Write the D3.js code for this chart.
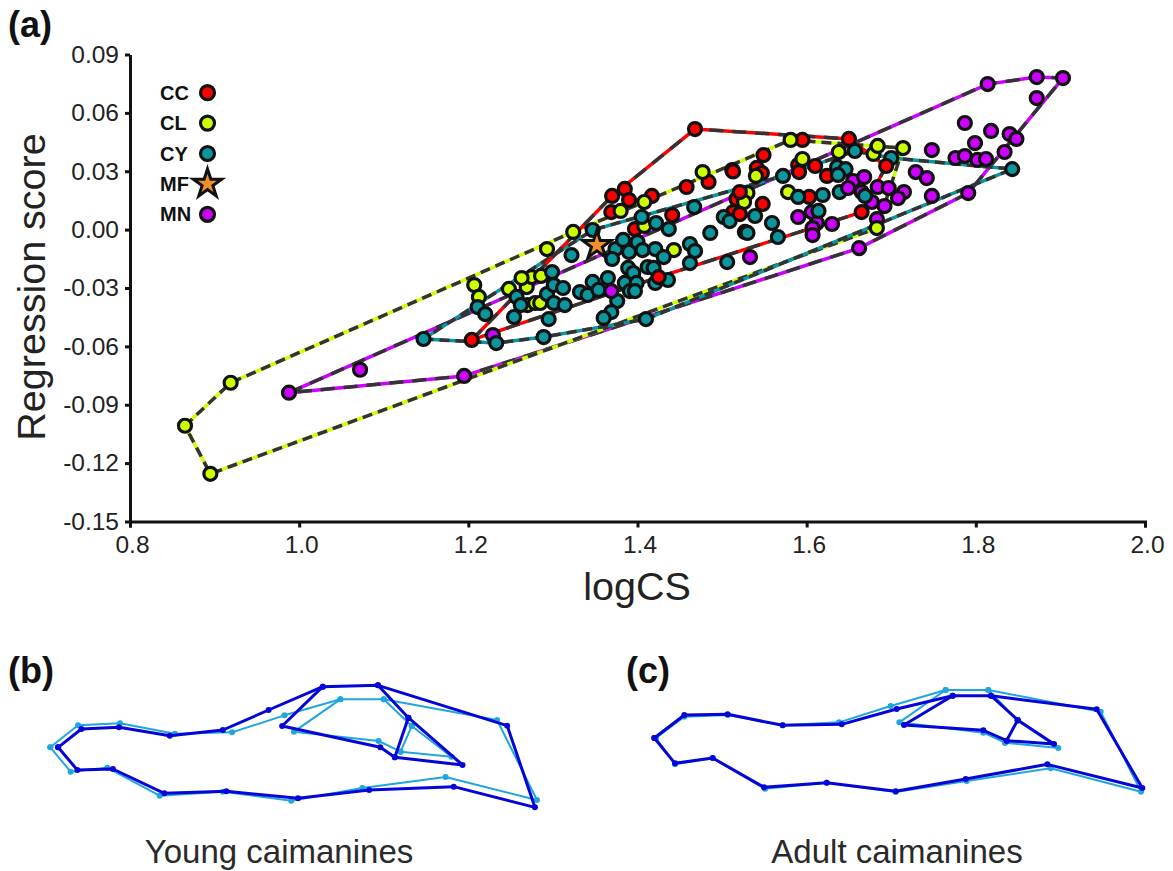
<!DOCTYPE html>
<html>
<head>
<meta charset="utf-8">
<script src="https://cdn.jsdelivr.net/npm/d3@7"></script>
<style>
  body { margin: 0; background: #fff; }
  text { font-family: "Liberation Sans", Arial, sans-serif; }
</style>
</head>
<body>
<div id="chart"></div>
<script>
// values
const xTicks = [0.8, 1.0, 1.2, 1.4, 1.6, 1.8, 2.0];
const yTicks = [-0.15, -0.12, -0.09, -0.06, -0.03, 0, 0.03, 0.06, 0.09];

const ccX = [1.204,1.370,1.385,1.390,1.417,1.369,1.397,1.441,1.458,1.425,1.468,1.595,1.650,1.549,1.512,1.513,1.484,1.541,1.547,1.610,1.590,1.591,1.624,1.694,1.548,1.521,1.521,1.517,1.513,1.603,1.665];
const ccY = [-0.0567,0.0173,0.0209,0.0152,0.0173,0.0090,0.0003,0.0075,0.0219,-0.0244,0.0517,0.0461,0.0466,0.0383,0.0306,0.0299,0.0245,0.0317,0.0291,0.0327,0.0332,0.0296,0.0276,0.0327,0.0132,0.0080,0.0193,0.0157,0.0090,0.0168,0.0090];

const clX = [0.865,0.919,0.895,1.207,1.2125,1.248,1.263,1.269,1.275,1.286,1.270,1.279,1.285,1.293,1.324,1.380,1.408,1.408,1.443,1.477,1.581,1.638,1.684,1.679,1.714,1.595,1.540,1.530,1.526,1.578,1.683];
const clY = [-0.1008,-0.0787,-0.1255,-0.0285,-0.0346,-0.0305,-0.0249,-0.0295,-0.0244,-0.0238,-0.0388,-0.0377,-0.0377,-0.0100,-0.0012,0.0096,0.0142,0.0019,-0.0105,0.0296,0.0461,0.0399,0.0430,0.0389,0.0419,0.0363,0.0276,0.0188,0.0142,0.0193,0.0008];

const cyX = [1.147,1.211,1.220,1.233,1.257,1.262,1.254,1.289,1.295,1.293,1.299,1.301,1.312,1.301,1.314,1.322,1.332,1.341,1.347,1.354,1.365,1.376,1.369,1.360,1.347,1.374,1.370,1.383,1.390,1.400,1.406,1.421,1.431,1.389,1.395,1.385,1.399,1.391,1.397,1.412,1.419,1.421,1.436,1.410,1.405,1.422,1.437,1.467,1.462,1.468,1.462,1.502,1.509,1.539,1.486,1.527,1.530,1.559,1.566,1.506,1.572,1.590,1.619,1.639,1.636,1.646,1.637,1.614,1.669,1.657,1.700,1.843];
const cyY = [-0.0562,-0.0398,-0.0434,-0.0583,-0.0346,-0.0388,-0.0449,-0.0552,-0.0460,-0.0331,-0.0218,-0.0285,-0.0300,-0.0377,-0.0388,-0.0131,-0.0321,-0.0336,-0.0269,-0.0310,-0.0249,-0.0367,-0.0424,-0.0454,-0.0002,-0.0100,-0.0151,-0.0053,-0.0115,-0.0064,-0.0105,-0.0100,-0.0141,-0.0197,-0.0223,-0.0274,-0.0274,-0.0316,-0.0316,-0.0192,-0.0197,-0.0274,-0.0259,-0.0460,0.0065,0.0034,0.0003,0.0116,-0.0074,-0.0110,-0.0172,0.0065,0.0044,0.0070,-0.0017,-0.0012,-0.0017,0.0034,-0.0038,-0.0167,0.0276,0.0168,0.0178,0.0193,0.0322,0.0311,0.0281,0.0096,0.0173,0.0404,0.0368,0.0311];

const mnX = [0.988,1.072,1.195,1.229,1.369,1.533,1.590,1.606,1.612,1.630,1.607,1.607,1.662,1.655,1.668,1.684,1.697,1.715,1.708,1.692,1.677,1.665,1.649,1.683,1.729,1.742,1.748,1.748,1.791,1.776,1.787,1.802,1.812,1.799,1.834,1.787,1.818,1.840,1.848,1.814,1.872,1.903,1.872];
const mnY = [-0.0838,-0.0720,-0.0752,-0.0542,-0.0316,-0.0141,0.0065,0.0090,0.0034,0.0029,0.0008,-0.0028,-0.0095,0.0250,0.0270,0.0219,0.0214,0.0193,0.0162,0.0121,0.0142,0.0193,0.0214,0.0054,0.0296,0.0265,0.0409,0.0173,0.0188,0.0368,0.0378,0.0358,0.0363,0.0445,0.0399,0.0548,0.0507,0.0491,0.0466,0.0748,0.0784,0.0779,0.0676];

const mfX = [1.352];
const mfY = [-0.008];

// convex hulls, in drawing order
const ccHull = [[1.204,-0.0567],[1.370,0.0173],[1.468,0.0517],[1.650,0.0466],[1.694,0.0327],[1.665,0.0090],[1.425,-0.0244]];
const clHull = [[0.865,-0.1008],[0.919,-0.0787],[1.324,-0.0012],[1.581,0.0461],[1.714,0.0419],[1.683,0.0008],[0.895,-0.1255]];
const cyHull = [[1.147,-0.0562],[1.233,-0.0583],[1.289,-0.0552],[1.410,-0.0460],[1.843,0.0311],[1.700,0.0368],[1.657,0.0404],[1.572,0.0276],[1.347,-0.0002]];
const mnHull = [[0.988,-0.0838],[1.814,0.0748],[1.872,0.0784],[1.903,0.0779],[1.791,0.0188],[1.662,-0.0095],[1.195,-0.0752]];

// points that sit on top of the others in the original
const raised = ["CC1.65","CL1.638","CC1.694","CY1.669","CY1.614","CL1.683","CC1.425","CL1.684","CL1.263","CY1.233","CC1.521","CC1.204"];

const legendKeys = ["CC", "CL", "CY", "MF", "MN"];

// outlines of the mean shapes, panel (b) and (c), in the panels' own units
const youngDarkOuter = [[83,232],[152,177],[263,172],[413,197],[570,180],[705,120],[865,50],[1028,46],[1410,167],[1492,412],[1252,350],[1002,360],[792,385],[580,364],[397,370],[245,297],[140,300],[83,232]];
const youngDarkInner = [[865,50],[745,168],[1035,232],[1078,262],[1278,285],[1118,143],[1028,46]];
const youngDarkBar = [[1118,143],[1078,262]];
const youngLightOuter = [[60,232],[142,166],[266,160],[428,191],[597,187],[752,136],[917,88],[1045,88],[1380,150],[1498,390],[1228,321],[982,354],[772,392],[570,365],[383,377],[228,293],[120,305],[60,232]];
const youngLightInner = [[917,88],[780,185],[1030,213],[1095,245],[1245,260],[1128,168],[1045,88]];
const youngLightBar = [[1128,168],[1095,245]];

const adultDarkOuter = [[43,204],[133,135],[263,133],[428,166],[605,163],[770,117],[938,77],[1053,77],[1370,118],[1507,354],[1222,283],[977,327],[767,364],[560,338],[372,352],[218,264],[105,280],[43,204]];
const adultDarkInner = [[938,77],[792,165],[1030,181],[1100,212],[1242,222],[1133,150],[1053,77]];
const adultDarkBar = [[1133,150],[1100,212]];
const adultLightOuter = [[48,204],[133,140],[263,135],[428,166],[597,157],[752,108],[917,60],[1045,60],[1382,125],[1503,365],[1232,295],[980,333],[767,366],[560,338],[375,356],[218,264],[105,283],[48,204]];
const adultLightInner = [[917,60],[778,157],[1030,188],[1095,218],[1255,234],[1133,152],[1045,60]];
const adultLightBar = [[1133,152],[1095,218]];

const color = {CC: "#ff0000", CL: "#ccff00", CY: "#0b959c", MF: "#f0902c", MN: "#cc00ff"};
const dash = {CC: "14 9", CL: "10 6", CY: "10 6", MN: "14 9"};
const ink = "#222";
const lineInk = "#333";

const svg = d3.select("#chart").append("svg")
  .attr("width", 1173)
  .attr("height", 871);

const x = d3.scaleLinear().domain([0.8, 2.0]).range([130, 1145]);
const y = d3.scaleLinear().domain([-0.15, 0.09]).range([521.5, 54.5]);

// axes
const hyphen = f => v => d3.format(f)(v).replace("\u2212", "-");

const xAxis = svg.append("g")
  .attr("transform", "translate(0," + y.range()[0] + ")")
  .call(d3.axisBottom(x).tickValues(xTicks).tickFormat(hyphen(".1f")).tickSize(6).tickSizeOuter(6).tickPadding(8));

const yAxis = svg.append("g")
  .attr("transform", "translate(" + x.range()[0] + ",0)")
  .call(d3.axisLeft(y).tickValues(yTicks).tickFormat(hyphen(".2f")).tickSize(5).tickSizeOuter(0).tickPadding(6));

[xAxis, yAxis].forEach(a => {
  a.select(".domain").attr("stroke", "#111").attr("stroke-width", 3);
  a.selectAll(".tick line").attr("stroke", "#111").attr("stroke-width", 3);
  a.selectAll(".tick text").attr("fill", ink).style("font-size", "24.5px");
});
xAxis.selectAll(".tick text").attr("dx", 2);

svg.append("text")
  .attr("transform", "translate(45,287) rotate(-90)")
  .attr("text-anchor", "middle")
  .attr("fill", ink)
  .style("font-size", "39.5px")
  .text("Regression score");

svg.append("text")
  .attr("x", 637)
  .attr("y", 600)
  .attr("text-anchor", "middle")
  .attr("fill", ink)
  .style("font-size", "39.5px")
  .text("logCS");

// hulls: a solid coloured line with dark dashes over it
const hullLine = d3.line().x(d => x(d[0])).y(d => y(d[1])).curve(d3.curveLinearClosed);
const hulls = [
  {key: "MN", pts: mnHull},
  {key: "CL", pts: clHull},
  {key: "CY", pts: cyHull},
  {key: "CC", pts: ccHull}
];

hulls.forEach(h => {
  svg.append("path")
    .attr("d", hullLine(h.pts))
    .attr("fill", "none")
    .attr("stroke", color[h.key])
    .attr("stroke-width", 3.5);
  svg.append("path")
    .attr("d", hullLine(h.pts))
    .attr("fill", "none")
    .attr("stroke", lineInk)
    .attr("stroke-width", 3.5)
    .attr("stroke-dasharray", dash[h.key]);
});

// points
const series = [
  {key: "CC", xs: ccX, ys: ccY},
  {key: "CL", xs: clX, ys: clY},
  {key: "CY", xs: cyX, ys: cyY},
  {key: "MN", xs: mnX, ys: mnY}
];
const points = series.flatMap(s => s.xs.map((v, i) => ({key: s.key, x: v, y: s.ys[i]})));

const dots = svg.append("g").selectAll("circle")
  .data(points)
  .enter().append("circle")
    .attr("cx", d => x(d.x))
    .attr("cy", d => y(d.y))
    .attr("r", 6.5)
    .attr("fill", d => color[d.key])
    .attr("stroke", "#111")
    .attr("stroke-width", 3.2);
dots.filter(d => raised.includes(d.key + d.x)).raise();

const star = d3.symbol().type(d3.symbolStar).size(250);
svg.selectAll("path.mf")
  .data(mfX)
  .enter().append("path")
    .attr("class", "mf")
    .attr("d", star)
    .attr("transform", (d, i) => "translate(" + x(d) + "," + y(mfY[i]) + ")")
    .attr("fill", color.MF)
    .attr("stroke", "#111")
    .attr("stroke-width", 3);

// legend
const legend = svg.append("g").selectAll("g")
  .data(legendKeys)
  .enter().append("g")
    .attr("transform", (d, i) => "translate(0," + (92.7 + i * 30.4) + ")");

legend.append("text")
  .attr("x", 160)
  .attr("y", 7)
  .attr("fill", "#111")
  .style("font-size", "20px")
  .style("font-weight", "bold")
  .text(d => d);

legend.filter(d => d !== "MF").append("circle")
  .attr("cx", 207.5)
  .attr("r", 7)
  .attr("fill", d => color[d])
  .attr("stroke", "#111")
  .attr("stroke-width", 3.2);

legend.filter(d => d === "MF").append("path")
  .attr("d", star)
  .attr("transform", "translate(207.5,0)")
  .attr("fill", color.MF)
  .attr("stroke", "#111")
  .attr("stroke-width", 3);

// panel letters
[["(a)", 8, 37], ["(b)", 8, 683], ["(c)", 626, 683]].forEach(p => {
  svg.append("text")
    .attr("x", p[1])
    .attr("y", p[2])
    .attr("fill", "#111")
    .style("font-size", "36px")
    .style("font-weight", "bold")
    .text(p[0]);
});

// mean shapes
function drawShape(sx, sy, sets, caption, cx) {
  const line = d3.line().x(d => sx(d[0])).y(d => sy(d[1]));
  sets.forEach(s => {
    s.paths.forEach(p => {
      svg.append("path")
        .attr("d", line(p))
        .attr("fill", "none")
        .attr("stroke", s.stroke)
        .attr("stroke-width", s.width)
        .attr("stroke-linejoin", "round");
      svg.append("g").selectAll("circle")
        .data(p)
        .enter().append("circle")
          .attr("cx", d => sx(d[0]))
          .attr("cy", d => sy(d[1]))
          .attr("r", s.r)
          .attr("fill", s.stroke);
    });
  });
  svg.append("text")
    .attr("x", cx)
    .attr("y", 863)
    .attr("text-anchor", "middle")
    .attr("fill", "#2a2a2a")
    .style("font-size", "33px")
    .text(caption);
}

drawShape(
  d3.scaleLinear().domain([0, 1566]).range([30, 560]),
  d3.scaleLinear().domain([0, 450]).range([670, 820]),
  [
    {stroke: "#1fa6dc", width: 2, r: 3, paths: [youngLightOuter, youngLightInner, youngLightBar]},
    {stroke: "#0505d8", width: 3, r: 3, paths: [youngDarkOuter, youngDarkInner, youngDarkBar]}
  ],
  "Young caimanines", 279
);

drawShape(
  d3.scaleLinear().domain([0, 1560]).range([640, 1160]),
  d3.scaleLinear().domain([0, 390]).range([670, 800]),
  [
    {stroke: "#1fa6dc", width: 2, r: 3, paths: [adultLightOuter, adultLightInner, adultLightBar]},
    {stroke: "#0505d8", width: 3, r: 3, paths: [adultDarkOuter, adultDarkInner, adultDarkBar]}
  ],
  "Adult caimanines", 897
);
</script>
</body>
</html>
